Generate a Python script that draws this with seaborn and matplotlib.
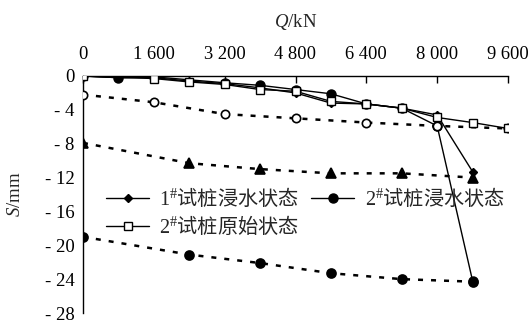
import matplotlib
matplotlib.use("Agg")
import matplotlib.pyplot as plt
import seaborn as sns
import pandas as pd

# Load Q (kN) and settlement S (mm)
q_pile1_soaked = [0, 800, 1600, 2400, 3200, 4000, 4800, 5600, 6400, 7200, 8000, 8800]
s_pile1_soaked = [0, -0.2, -0.2, -0.6, -0.9, -1.4, -2.0, -3.2, -3.3, -3.8, -4.6, -11.3]

q_pile2_soaked = [0, 800, 1600, 3200, 4000, 4800, 5600, 6400, 7200, 8000, 8800]
s_pile2_soaked = [0, -0.2, -0.1, -0.8, -1.1, -1.6, -2.1, -3.3, -3.8, -5.9, -24.2]

q_pile2_orig = [0, 1600, 2400, 3200, 4000, 4800, 5600, 6400, 7200, 8000, 8800, 9600]
s_pile2_orig = [0, -0.3, -0.7, -1.0, -1.6, -1.8, -3.0, -3.3, -3.8, -4.9, -5.5, -6.2]

# Dashed settlement curves
q_open = [0, 1600, 3200, 4800, 6400, 8000, 9600]
s_open = [-2.2, -3.1, -4.5, -5.0, -5.5, -5.9, -6.2]

q_tri = [0, 2400, 4000, 5600, 7200, 8800]
s_tri = [-7.9, -10.3, -11.0, -11.5, -11.5, -12.0]

q_dot = [0, 2400, 4000, 5600, 7200, 8800]
s_dot = [-19.0, -21.1, -22.1, -23.3, -24.0, -24.3]

labels = [r"$\mathsf{1}^{\mathsf{\#}}\mathrm{试桩浸水状态}$",
          r"$\mathsf{2}^{\mathsf{\#}}\mathrm{试桩浸水状态}$",
          r"$\mathsf{2}^{\mathsf{\#}}\mathrm{试桩原始状态}$"]

x_ticks = [0, 1600, 3200, 4800, 6400, 8000, 9600]
x_tick_labels = ["0", "1 600", "3 200", "4 800", "6 400", "8 000", "9 600"]
y_ticks = [0, -4, -8, -12, -16, -20, -24, -28]
y_tick_labels = ["0", "- 4", "- 8", "- 12", "- 16", "- 20", "- 24", "- 28"]

sns.set_theme(style="white")
plt.rcParams["font.family"] = ["Liberation Serif", "Noto Sans CJK SC"]
plt.rcParams["mathtext.fontset"] = "custom"
plt.rcParams["mathtext.rm"] = "Noto Sans CJK SC"
plt.rcParams["mathtext.sf"] = "Liberation Serif"
plt.rcParams["mathtext.it"] = "Liberation Serif:italic"
plt.rcParams["font.size"] = 13.5

fig = plt.figure(figsize=(5.31, 3.23), dpi=100)
ax = fig.add_axes([83 / 531, 1 - 313 / 323, 425 / 531, 237 / 323])

def draw(q, s, **kw):
    df = pd.DataFrame({"Q": q, "S": s})
    sns.lineplot(data=df, x="Q", y="S", ax=ax, sort=False, estimator=None, **kw)

dash_kw = dict(color="black", linewidth=1.8, dashes=(2.0, 3.2), markeredgecolor="black",
               markeredgewidth=1.2)
draw(q_dot, s_dot, marker="o", markersize=6.5, markerfacecolor="black", **dash_kw)
draw(q_tri, s_tri, marker="^", markersize=6.5, markerfacecolor="black", **dash_kw)

solid_kw = dict(color="black", linewidth=1.0, markeredgecolor="black", markeredgewidth=1.0)
draw(q_pile1_soaked, s_pile1_soaked, marker="D", markersize=4.5, markerfacecolor="black",
     label=labels[0], **solid_kw)
draw(q_pile2_soaked, s_pile2_soaked, marker="o", markersize=6.5, markerfacecolor="black",
     label=labels[1], **solid_kw)
draw(q_open, s_open, marker="o", markersize=6.0, markerfacecolor="white", **dash_kw)
draw(q_pile2_orig, s_pile2_orig, marker="s", markersize=6.0, markerfacecolor="white",
     label=labels[2], **solid_kw)

ax.set_xlim(0, 9600)
ax.set_ylim(-28, 0)
ax.xaxis.tick_top()
ax.xaxis.set_label_position("top")
ax.set_xticks(x_ticks)
ax.set_xticklabels(x_tick_labels)
ax.set_yticks(y_ticks)
ax.set_yticklabels(y_tick_labels)
ax.tick_params(axis="x", direction="in", length=5, width=1, pad=9, labelsize=13.3, colors="black")
ax.tick_params(axis="y", direction="in", length=5, width=1, pad=6, labelsize=13.5, colors="black")
ax.set_xlabel(r"$Q\mathsf{/kN}$", fontsize=13.5, labelpad=14)
ax.set_ylabel(r"$S\mathsf{/mm}$", fontsize=13.5, labelpad=15)

for side in ["bottom", "right"]:
    ax.spines[side].set_visible(False)
for side in ["top", "left"]:
    ax.spines[side].set_color("black")
    ax.spines[side].set_linewidth(1.0)
    ax.spines[side].set_zorder(0.5)

handles, labs = ax.get_legend_handles_labels()
order = [labs.index(labels[0]), labs.index(labels[2]), labs.index(labels[1])]
ax.legend([handles[i] for i in order], [labs[i] for i in order], ncol=2, frameon=False,
          loc="upper left", bbox_to_anchor=(0.035, 0.565), handlelength=2.15,
          handletextpad=0.5, columnspacing=0.6, labelspacing=0.25, borderaxespad=0,
          fontsize=14.5)

fig.savefig("out.png", dpi=100)
